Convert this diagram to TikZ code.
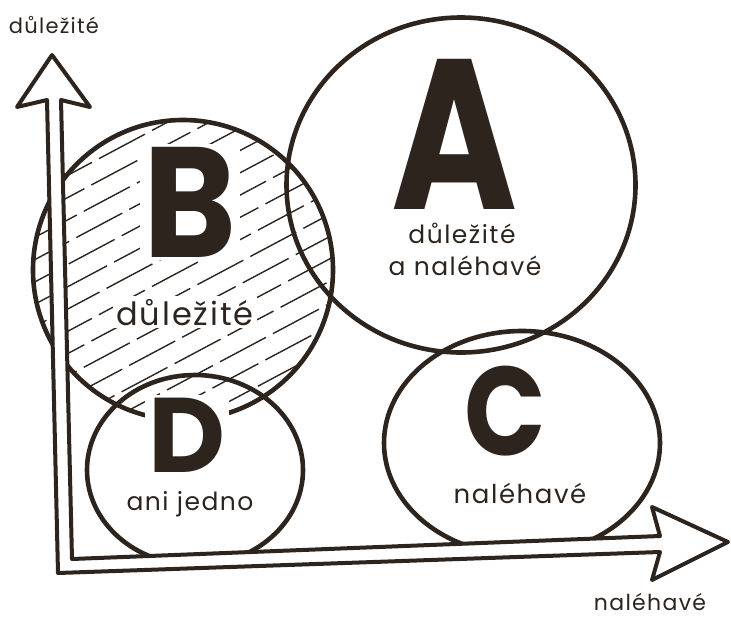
\documentclass[tikz,border=0pt]{standalone}
\usepackage{fontspec}
\usepackage{graphicx}
\setmainfont{Poppins}
\newfontfamily\labfont[LetterSpace=6]{Poppins}
\usetikzlibrary{shapes.geometric}
\definecolor{ink}{RGB}{45,36,30}
\begin{document}
\begin{tikzpicture}[x=1pt,y=-1pt,
  ring/.style={draw=ink, line width=4.6pt, ellipse, inner sep=0pt},
  axisshape/.style={draw=ink, fill=white, line width=4pt, line join=round},
  hatchline/.style={draw=ink, line width=1.4pt, dash pattern=on 52pt off 8pt},
  bigl/.style={text=ink, anchor=base, inner sep=2pt},
  lab/.style={text=ink, anchor=base, inner sep=1pt}]
\useasboundingbox (0,0) rectangle (731,619);
% hatching of B
\begin{scope}
  \clip (183,270) circle (150pt);
  \foreach \k in {-10,...,10}{
    \draw[hatchline, dash phase={\k*19pt}] ({183+\k*9.2-190},{270+\k*17.4+101}) -- ({183+\k*9.2+190},{270+\k*17.4-101});
  }
\end{scope}
% circles
\node[ring, minimum width=349pt, minimum height=335pt] (cA) at (461,185) {};
\node[ring, minimum width=300pt, minimum height=300pt] (cB) at (183,270) {};
\node[ring, minimum width=216pt, minimum height=190pt] (cD) at (195,470) {};
\node[ring, minimum width=276pt, minimum height=224pt] (cC) at (522,443) {};
% letters
\node[bigl] (lA) at (455,209) {\bfseries\fontsize{214}{214}\selectfont\scalebox{0.8}[1]{A}};
\node[bigl, fill=white, inner sep=3pt] (lB) at (190,257) {\bfseries\fontsize{157}{157}\selectfont\scalebox{0.9}[1]{B}};
\node[bigl] (lC) at (505,455) {\bfseries\fontsize{126}{126}\selectfont\scalebox{0.85}[1]{C}};
\node[bigl, fill=white, inner sep=3pt] (lD) at (187,472) {\bfseries\fontsize{106}{106}\selectfont\scalebox{1.0}[1]{D}};
% labels
\node[lab] (tA1) at (462,243) {\labfont\fontsize{25}{25}\selectfont důležité};
\node[lab] (tA2) at (465,275) {\labfont\fontsize{25}{25}\selectfont a naléhavé};
\node[lab, fill=white, inner sep=3pt] (tB) at (185,325) {\labfont\fontsize{32}{32}\selectfont důležité};
\node[lab] (tD) at (190,510) {\labfont\fontsize{25}{25}\selectfont ani jedno};
\node[lab] (tC) at (520,503) {\labfont\fontsize{26}{26}\selectfont naléhavé};
% axes
\draw[axisshape] (58,573) -- (660,552) -- (652,580) -- (728,542) -- (652,507) -- (660,536)
  -- (72,559) -- (61,100) -- (90,107) -- (52,55) -- (17,107) -- (47,100) -- cycle;
\node[lab] (ly) at (54,33) {\labfont\fontsize{21}{21}\selectfont důležité};
\node[lab] (lx) at (650,610) {\labfont\fontsize{22}{22}\selectfont naléhavé};
\end{tikzpicture}
\end{document}
